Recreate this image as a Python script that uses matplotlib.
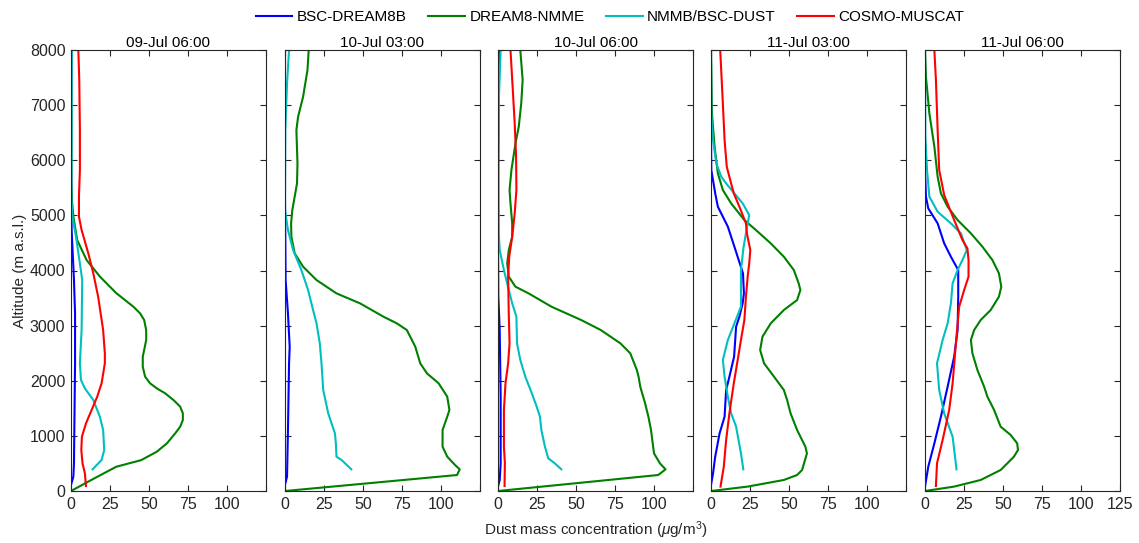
import matplotlib
matplotlib.use("Agg")
import matplotlib.pyplot as plt

plt.rcParams['font.family'] = ['Liberation Sans', 'DejaVu Sans']
plt.rcParams['font.size'] = 11
plt.rcParams['mathtext.fontset'] = 'custom'
plt.rcParams['mathtext.rm'] = 'Liberation Sans'
plt.rcParams['mathtext.it'] = 'Liberation Sans:italic'

titles = ['09-Jul 06:00', '10-Jul 03:00', '10-Jul 06:00', '11-Jul 03:00', '11-Jul 06:00']
models = ['BSC-DREAM8B', 'DREAM8-NMME', 'NMMB/BSC-DUST', 'COSMO-MUSCAT']
colors = ['#0000ff', '#008000', '#00bfbf', '#ff0000']

# ---- 09-Jul 06:00 ----
p1_bsc_alt = [110, 260, 500, 2316, 3220, 3827, 4734, 5943, 8000]
p1_bsc_val = [0, 1.5, 1.9, 2.6, 2.6, 1.9, 0.4, 0.1, 0.2]
p1_nmme_alt = [0, 200, 440, 560, 713, 865, 1046, 1167, 1288, 1409, 1530, 1650, 1771, 1862,
               1953, 2074, 2255, 2437, 2557, 2739, 2920, 3102, 3222, 3343, 3590, 3890,
               4190, 4550, 4980, 5300, 5600, 6500, 8000]
p1_nmme_val = [0, 13, 29, 45, 55, 61.5, 66.8, 70, 71.7, 71.7, 70, 65.7, 60.4, 55,
               50.7, 47.5, 46, 46, 46.9, 48.2, 48.2, 46.9, 44.3, 40, 29, 18.5,
               10, 4, 1.5, 0.5, 0.2, 0.2, 0.2]
p1_nmmb_alt = [393, 562, 744, 1106, 1348, 1650, 1862, 2013, 2316, 2920, 3827, 4130, 4613,
               4976, 5340, 6500, 8000]
p1_nmmb_val = [13.8, 19.6, 21.3, 20.6, 18.5, 14.3, 8.9, 6.4, 5.7, 6.8, 7.2, 5.7, 3.2,
               0.9, 0.2, 0.4, 0.4]
p1_cosmo_alt = [90, 320, 500, 744, 985, 1227, 1469, 1711, 1953, 2316, 2497, 2920, 3525, 3948,
                4311, 4734, 4976, 5340, 5822, 6548, 7455, 8000]
p1_cosmo_val = [9.6, 8.9, 7.4, 6.6, 7, 9.6, 13.2, 16.8, 19.6, 21.7, 21.7, 20.6, 17.4, 14.3,
                11.1, 6.8, 5.1, 5.1, 5.7, 5.7, 5.3, 4.7]

# ---- 10-Jul 03:00 ----
p2_bsc_alt = [110, 260, 1106, 2316, 2618, 3220, 3827, 5339, 8000]
p2_bsc_val = [0, 1.3, 1.9, 2.6, 3, 1.9, 0.4, 0, 0]
p2_nmme_alt = [0, 290, 393, 472, 623, 804, 1106, 1348, 1470, 1711, 1953, 2134, 2316, 2618,
               2920, 3041, 3162, 3404, 3585, 3827, 4069, 4311, 4613, 4855, 5097, 5339,
               5580, 5943, 6548, 6790, 7152, 7636, 8000]
p2_nmme_val = [0, 110.3, 112, 109, 104, 101, 101, 104, 105.4, 104, 98.5, 91, 86.7, 83.5,
               78.1, 71.7, 63.1, 48.1, 33, 20.2, 11.6, 6.2, 4.1, 3.9, 4.7, 6.2,
               7.7, 8, 7.3, 8.4, 11.6, 14.4, 15.2]
p2_nmmb_alt = [393, 562, 623, 865, 1046, 1409, 1832, 2316, 2678, 3041, 3283, 3646, 4008,
               4371, 4734, 5097, 5339, 6548, 7394, 8000]
p2_nmmb_val = [42.5, 36.3, 33, 32.6, 32, 27.7, 24.5, 23.4, 22.3, 20.2, 18, 14.8, 10.5,
               5.2, 1.9, 0, 0, 0.2, 1.3, 2.6]
p2_cosmo_alt = []
p2_cosmo_val = []

# ---- 10-Jul 06:00 ----
p3_bsc_alt = [80, 200, 502, 1711, 2920, 3525, 4734, 5943, 8000]
p3_bsc_val = [0, 1.1, 1.7, 1.7, 1.1, 0.2, 0, 0.2, 0.6]
p3_nmme_alt = [0, 290, 393, 502, 683, 925, 1106, 1348, 1590, 1892, 2074, 2195, 2497, 2678,
               2920, 3102, 3343, 3585, 3706, 3888, 4129, 4371, 4613, 4855, 5218, 5460,
               5822, 6306, 6608, 7031, 7455, 8000]
p3_nmme_val = [0, 102.7, 107.4, 103.8, 100, 98.9, 98.1, 96.4, 94.3, 91.2, 90.1, 89, 84.8, 78.5,
               65.9, 53.3, 34.3, 19.6, 11.2, 6.9, 5.9, 6.9, 9.1, 9.1, 8, 7.4,
               8.6, 11.2, 13.3, 14.9, 15.8, 14.3]
p3_nmmb_alt = [393, 502, 593, 804, 1106, 1348, 1530, 1771, 2074, 2376, 2678, 3162, 3404,
               3646, 4008, 4371, 4613, 5943, 7152, 8000]
p3_nmmb_val = [40.6, 36.4, 32.2, 30.1, 27.8, 26.9, 24.8, 21.7, 17.5, 14.3, 12.2, 11.8, 9.1,
               6.9, 3.8, 1.1, 0.6, 0.2, 0.6, 1.7]
p3_cosmo_alt = [90, 502, 804, 1469, 1953, 2316, 2678, 3222, 3888, 4250, 4613, 5036, 5460,
                6064, 6669, 7273, 8000]
p3_cosmo_val = [4.2, 4.4, 3.8, 3.8, 4.8, 6.5, 7.4, 6.9, 6.5, 7.2, 9.1, 10.7, 11.8,
                11.6, 10.7, 9.5, 8]

# ---- 11-Jul 03:00 ----
p4_bsc_alt = [110, 320, 623, 1046, 1348, 1832, 2074, 2437, 2981, 3162, 3404, 3585, 3948,
              4432, 4795, 5157, 5399, 5822, 6548, 8000]
p4_bsc_val = [0, 1.3, 2.7, 5.5, 8.7, 9.7, 11.8, 14.8, 16.1, 18.2, 20.3, 21.1, 20.5,
              15, 10.8, 4.4, 2.7, 0.2, 0, 0]
p4_nmme_alt = [0, 80, 200, 290, 381, 683, 804, 1106, 1409, 1650, 1832, 2074, 2316, 2557,
               2799, 3041, 3283, 3464, 3646, 3767, 4008, 4250, 4492, 4734, 4915, 5218,
               5460, 5762, 6246, 6850, 7636, 8000]
p4_nmme_val = [0, 23.5, 46.7, 55.2, 58.4, 61.5, 60.5, 55.2, 51, 48.8, 46.7, 40.4, 34, 31.5,
               33, 38.3, 46.7, 55.2, 57.3, 56.2, 53.1, 46.7, 38.3, 28.8, 21.4, 12.9,
               7.6, 4.4, 2.3, 0.6, 0.2, 0]
p4_nmmb_alt = [393, 683, 1167, 1409, 1711, 2074, 2376, 2739, 3041, 3343, 3706, 4008, 4432,
               4674, 5006, 5218, 5399, 5580, 5701, 5943, 6367, 6850, 8000]
p4_nmmb_val = [20.7, 19.2, 16.1, 12.9, 10.8, 8.7, 7.6, 10.8, 15, 19.2, 19.2, 19.2, 20.9,
               22.4, 24.5, 20.3, 15, 9.7, 6.6, 3.4, 1.3, 0.2, 0]
p4_cosmo_alt = [80, 441, 925, 1409, 1953, 2376, 2739, 3102, 3525, 3888, 4129, 4371, 4674,
                4855, 5157, 5399, 5580, 5883, 6367, 7031, 8000]
p4_cosmo_val = [6.1, 8.2, 9.7, 11.8, 14.6, 17.1, 19.2, 21.4, 22.4, 23.5, 24.5, 25.2, 23,
                22.4, 18.2, 14.6, 12.9, 10.1, 8.7, 7.6, 5.9]

# ---- 11-Jul 06:00 ----
p5_bsc_alt = [80, 441, 865, 1348, 1892, 2437, 2920, 3525, 4008, 4250, 4492, 4855, 5127,
              5339, 5822, 8000]
p5_bsc_val = [0, 2.1, 6, 10.2, 14.5, 18.7, 20.9, 21.3, 21.3, 16.6, 12.3, 8.1, 2.1,
              0.6, 0, 0]
p5_nmme_alt = [0, 80, 200, 381, 623, 744, 865, 1016, 1167, 1469, 1711, 1892, 2195, 2497,
               2739, 2920, 3102, 3283, 3525, 3706, 3948, 4190, 4432, 4674, 4915, 5157,
               5399, 5701, 6246, 6850, 7515, 8000]
p5_nmme_val = [0, 18.7, 35.7, 48.5, 57, 59.6, 59.1, 54.9, 48.5, 44.3, 40, 37.9, 33.6, 30.4,
               29.4, 31.5, 35.7, 42.1, 47.4, 48.9, 47.4, 43.2, 36.8, 29.4, 20.9, 14.5,
               10.2, 8.1, 6, 2.8, 0.6, 0]
p5_nmmb_alt = [393, 985, 1409, 1832, 2316, 2739, 3041, 3404, 3767, 4008, 4190, 4371, 4674,
               4855, 5066, 5339, 5822, 6427, 8000]
p5_nmmb_val = [20.2, 17.7, 12.3, 9.1, 7.7, 11.3, 14.5, 16.6, 17.7, 20.9, 24, 26.8, 23,
               16.6, 8.1, 2.8, 1.3, 0.2, 0]
p5_cosmo_alt = [90, 502, 925, 1469, 1953, 2678, 3343, 3646, 3888, 4190, 4401, 4553, 4915,
                5369, 5822, 6548, 7455, 8000]
p5_cosmo_val = [7, 7.7, 11.3, 15.5, 17.7, 19.8, 21.9, 25.1, 27.9, 27.9, 27.2, 24, 18.7,
                12.3, 9.1, 8.1, 7, 6]

panels = [
    [(p1_bsc_val, p1_bsc_alt), (p1_nmme_val, p1_nmme_alt), (p1_nmmb_val, p1_nmmb_alt), (p1_cosmo_val, p1_cosmo_alt)],
    [(p2_bsc_val, p2_bsc_alt), (p2_nmme_val, p2_nmme_alt), (p2_nmmb_val, p2_nmmb_alt), (p2_cosmo_val, p2_cosmo_alt)],
    [(p3_bsc_val, p3_bsc_alt), (p3_nmme_val, p3_nmme_alt), (p3_nmmb_val, p3_nmmb_alt), (p3_cosmo_val, p3_cosmo_alt)],
    [(p4_bsc_val, p4_bsc_alt), (p4_nmme_val, p4_nmme_alt), (p4_nmmb_val, p4_nmmb_alt), (p4_cosmo_val, p4_cosmo_alt)],
    [(p5_bsc_val, p5_bsc_alt), (p5_nmme_val, p5_nmme_alt), (p5_nmmb_val, p5_nmmb_alt), (p5_cosmo_val, p5_cosmo_alt)],
]

W, H = 1139, 543
fig = plt.figure(figsize=(W / 100, H / 100), dpi=100)
lefts = [71, 285, 498, 711, 925]
ax_w = 195
ax_b = 52
ax_h = 441
dark = '#262626'

handles = []
for i, (left, data) in enumerate(zip(lefts, panels)):
    ax = fig.add_axes([left / W, ax_b / H, ax_w / W, ax_h / H])
    for j, (vals, alts) in enumerate(data):
        if len(vals) == 0:
            continue
        ln, = ax.plot(vals, alts, color=colors[j], lw=1.5, label=models[j])
        if i == 0:
            handles.append(ln)
    ax.set_xlim(0, 125)
    ax.set_ylim(0, 8000)
    ax.set_xticks([0, 25, 50, 75, 100, 125])
    if i < 4:
        ax.set_xticklabels(['0', '25', '50', '75', '100', ''])
    ax.set_yticks(range(0, 8001, 1000))
    if i > 0:
        ax.set_yticklabels([])
    else:
        ax.set_ylabel('Altitude (m a.s.l.)', color=dark, labelpad=2)
    ax.tick_params(direction='in', top=True, right=True, length=4, width=0.8,
                   colors=dark, labelsize=11.5, labelcolor=dark, pad=4)
    for s in ax.spines.values():
        s.set_color(dark)
        s.set_linewidth(0.8)
    ax.set_title(titles[i], fontsize=11, pad=2, color='black')

fig.text((498 + ax_w / 2) / W, 1 - 530 / H, r'Dust mass concentration ($\mu$g/m$^3$)',
         ha='center', va='center', fontsize=11, color=dark)

fig.legend(handles=handles, loc='center', bbox_to_anchor=(610 / W, 1 - 17 / H), ncol=4,
           frameon=False, fontsize=11, handlelength=2.4, handletextpad=0.3,
           columnspacing=1.4)

fig.savefig('out.png', dpi=100)
